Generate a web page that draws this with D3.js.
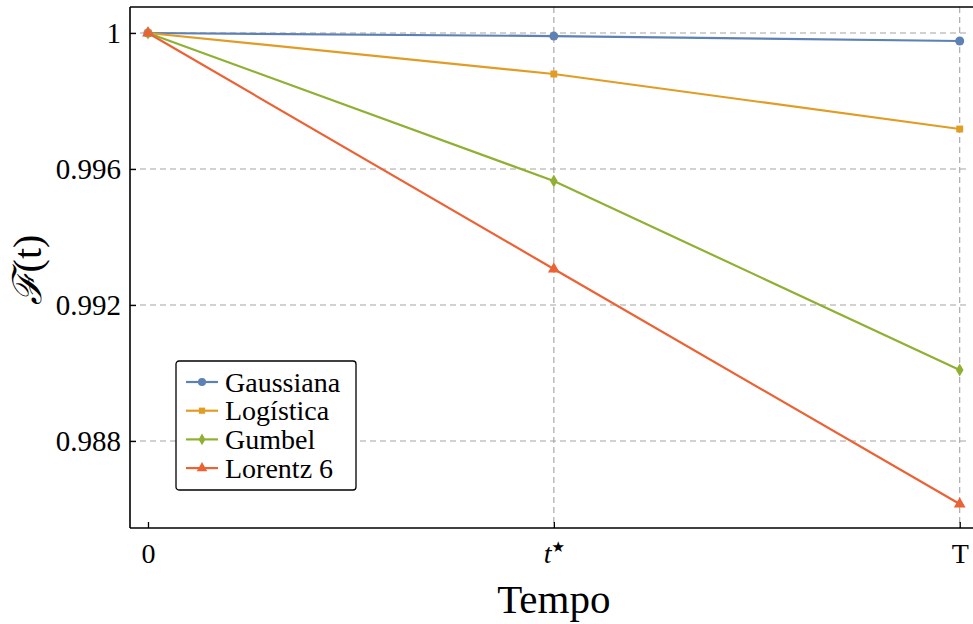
<!DOCTYPE html>
<html>
<head>
<meta charset="utf-8">
<script src="https://cdn.jsdelivr.net/npm/d3@7/dist/d3.min.js"></script>
<style>
  html, body { margin: 0; padding: 0; background: #fff; }
  svg { display: block; }
</style>
</head>
<body>
<svg id="chart" width="973" height="624"></svg>
<script>
// Time points and their tick labels
const timeKeys = ["0", "tstar", "T"];
const timeIndex = [0, 1, 2];

// Survival fidelity for each distribution at t = 0, t*, T
const seriesNames = ["Gaussiana", "Logística", "Gumbel", "Lorentz 6"];
const gaussiana = [1.0, 0.99991, 0.999765];
const logistica = [1.0, 0.998794, 0.997176];
const gumbel    = [1.0, 0.995647, 0.990088];
const lorentz6  = [1.0, 0.993059, 0.986147];

const yTicks = [0.988, 0.992, 0.996, 1];
const yTickLabels = ["0.988", "0.992", "0.996", "1"];

const colors = ["#5E81B5", "#E19C24", "#8FB032", "#EB6235"];
const shapes = [d3.symbolCircle, d3.symbolSquare, d3.symbolDiamond, d3.symbolTriangle];
const shapeSizes = [64, 48, 50, 60];

const SERIF = '"Liberation Serif", "Times New Roman", Times, serif';

const svg = d3.select("#chart");
const frame = { left: 130, right: 980, top: 7, bottom: 528 };

const x = d3.scaleLinear().domain([-0.0443, 2.05]).range([frame.left, frame.right]);
const y = d3.scaleLinear().domain([0.985441, 1.000765]).range([frame.bottom, frame.top]);

// Dashed grid
const grid = svg.append("g").attr("stroke", "#a3a3a3").attr("stroke-width", 1.1)
  .attr("stroke-dasharray", "6,4").attr("fill", "none");
yTicks.forEach(v => {
  grid.append("line").attr("x1", frame.left).attr("x2", 967).attr("y1", y(v)).attr("y2", y(v));
});
[1, 2].forEach(v => {
  grid.append("line").attr("x1", x(v)).attr("x2", x(v)).attr("y1", frame.top).attr("y2", frame.bottom);
});

// Frame
const fr = svg.append("g").attr("stroke", "#000").attr("stroke-width", 1.6).attr("fill", "none");
fr.append("line").attr("x1", frame.left).attr("x2", frame.left).attr("y1", frame.top).attr("y2", frame.bottom);
fr.append("line").attr("x1", frame.left).attr("x2", 973).attr("y1", frame.bottom).attr("y2", frame.bottom);
fr.append("line").attr("x1", frame.left).attr("x2", 973).attr("y1", frame.top).attr("y2", frame.top);

// Y axis
const yAxis = d3.axisLeft(y).tickValues(yTicks).tickSize(-6).tickPadding(9)
  .tickFormat((d, i) => yTickLabels[i]);
const gy = svg.append("g").attr("transform", `translate(${frame.left},0)`).call(yAxis);
gy.select(".domain").remove();
gy.selectAll(".tick line").attr("stroke", "#000").attr("stroke-width", 1.3);
gy.selectAll(".tick text").style("font-family", SERIF).style("font-size", "29px").attr("dy", "0.34em");

// X axis
const xAxis = d3.axisBottom(x).tickValues(timeIndex).tickSize(-6).tickPadding(15).tickFormat(() => "");
const gx = svg.append("g").attr("transform", `translate(0,${frame.bottom})`).call(xAxis);
gx.select(".domain").remove();
gx.selectAll(".tick line").attr("stroke", "#000").attr("stroke-width", 1.3);
gx.selectAll(".tick text").each(function(d, i) {
  const t = d3.select(this).style("font-family", SERIF).style("font-size", "28px").attr("dy", "0.71em");
  if (timeKeys[i] === "tstar") {
    t.append("tspan").attr("font-style", "italic").text("t");
    t.append("tspan").style("font-size", "15px").attr("dy", "-0.75em").style("font-family", '"DejaVu Sans", sans-serif').text("★");
  } else {
    t.text(timeKeys[i]);
  }
});

// Axis titles
svg.append("text").attr("x", x(1)).attr("y", 613).attr("text-anchor", "middle")
  .style("font-family", SERIF).style("font-size", "41px").text("Tempo");
svg.append("text").attr("transform", "translate(41,270) rotate(-90)").attr("text-anchor", "middle")
  .style("font-family", SERIF).style("font-size", "40px")
  .call(t => {
    t.append("tspan").attr("font-style", "italic").text("ℱ");
    t.append("tspan").text("(t)");
  });

// Series
const allSeries = [gaussiana, logistica, gumbel, lorentz6];
const line = d3.line().x((d, i) => x(timeIndex[i])).y(d => y(d));
const plot = svg.append("g");
allSeries.forEach((vals, s) => {
  plot.append("path").datum(vals).attr("d", line)
    .attr("fill", "none").attr("stroke", colors[s]).attr("stroke-width", 2.2);
});
allSeries.forEach((vals, s) => {
  plot.selectAll(null).data(vals).enter().append("path")
    .attr("d", d3.symbol().type(shapes[s]).size(shapeSizes[s]))
    .attr("transform", (d, i) => `translate(${x(timeIndex[i])},${y(d)})`)
    .attr("fill", colors[s]);
});

// Legend
const lg = svg.append("g").attr("transform", "translate(176,361)");
lg.append("rect").attr("x", 0).attr("y", 0).attr("width", 180).attr("height", 129).attr("rx", 3)
  .attr("fill", "#fff").attr("stroke", "#000").attr("stroke-width", 1.3);
seriesNames.forEach((name, s) => {
  const cy = 21 + s * 28.7;
  lg.append("line").attr("x1", 10).attr("x2", 42).attr("y1", cy).attr("y2", cy)
    .attr("stroke", colors[s]).attr("stroke-width", 2.2);
  lg.append("path").attr("d", d3.symbol().type(shapes[s]).size(shapeSizes[s] * 0.8)())
    .attr("transform", `translate(26,${cy})`).attr("fill", colors[s]);
  lg.append("text").attr("x", 49).attr("y", cy).attr("dy", "0.34em")
    .style("font-family", SERIF).style("font-size", "28px").text(name);
});
</script>
</body>
</html>
